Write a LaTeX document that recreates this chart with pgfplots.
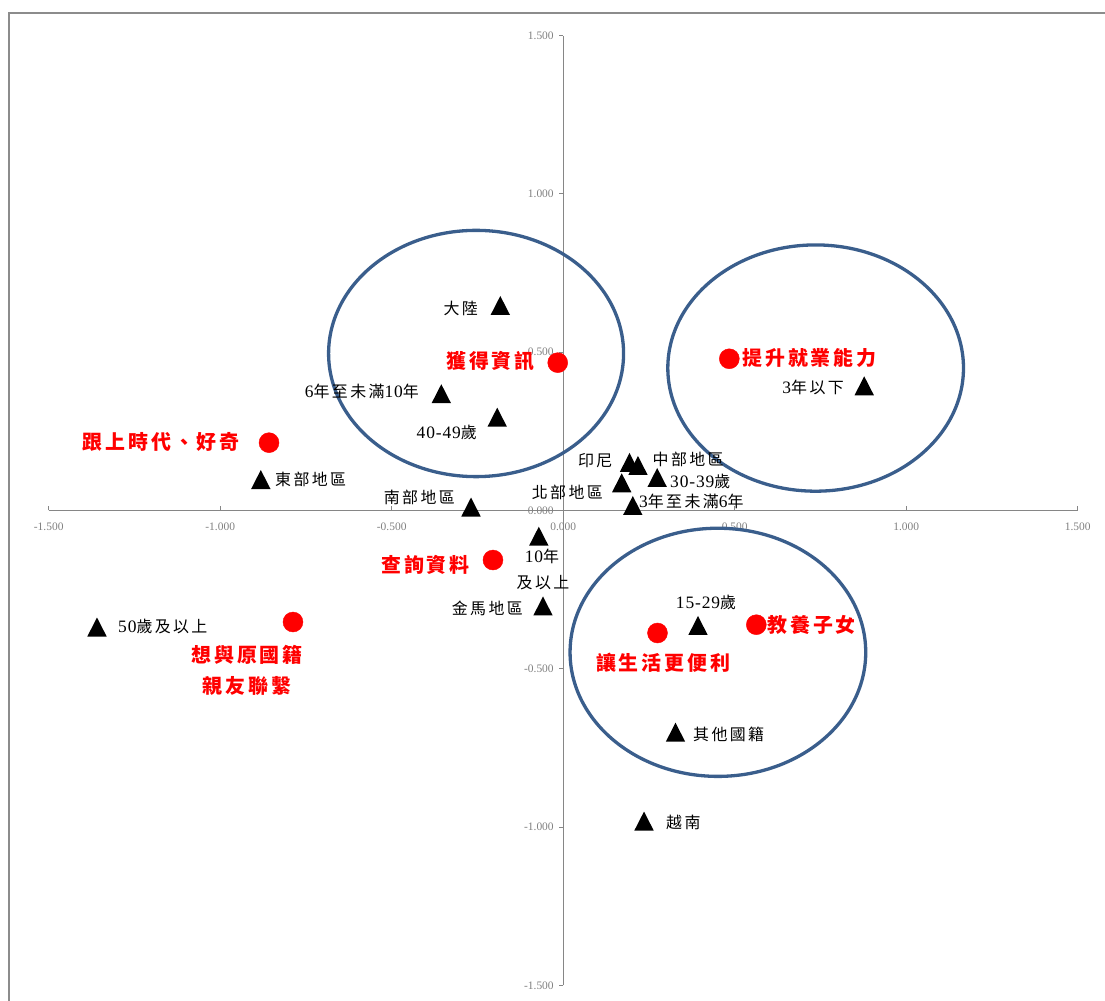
\documentclass[border=0pt]{standalone}
\usepackage{pgfplots}
\pgfplotsset{compat=1.18}
\usepackage{pgfplotstable}
\usepackage{fontspec}
\setmainfont{Liberation Serif}
\newfontfamily\cjkfont[LetterSpace=15]{Noto Sans CJK TC}
\newfontfamily\latfont[LetterSpace=5]{Liberation Serif}
\newcommand\C[1]{{\cjkfont\fontsize{16}{19}\selectfont #1}}
\newcommand\D[1]{{\latfont\fontsize{17.5}{19}\selectfont #1}}
\newcommand\R[1]{{\cjkfont\bfseries\fontsize{20}{24}\selectfont #1}}
\definecolor{axgray}{RGB}{134,134,134}
\definecolor{lblgray}{RGB}{128,128,128}
\definecolor{framegray}{RGB}{140,140,140}
\definecolor{ellcol}{RGB}{58,94,140}
\pgfdeclareplotmark{tri}{%
  \pgfpathmoveto{\pgfqpoint{0bp}{9.5bp}}%
  \pgfpathlineto{\pgfqpoint{-9.7bp}{-9.5bp}}%
  \pgfpathlineto{\pgfqpoint{9.7bp}{-9.5bp}}%
  \pgfpathclose\pgfusepathqfill}

% attributes (triangles)
\pgfplotstableread{
x y
-0.1834 0.6477
-0.3554 0.3690
-0.1924 0.2948
-0.8816 0.0979
-0.2688 0.0110
-0.0711 -0.0812
-0.0589 -0.3017
-1.3592 -0.3681
0.1933 0.1517
0.2180 0.1422
0.2740 0.1043
0.1706 0.0875
0.2029 0.0158
0.8776 0.3940
0.3930 -0.3633
0.3274 -0.7005
0.2356 -0.9811
}\tritable

% motives (circles)
\pgfplotstableread{
x y
-0.0160 0.4670
0.4843 0.4793
-0.8577 0.2142
-0.2047 -0.1564
-0.7878 -0.3523
0.2749 -0.3870
0.5630 -0.3608
}\dottable

\begin{document}
\begin{tikzpicture}
\begin{axis}[
  scale only axis, width=1029bp, height=949.6bp,
  xmin=-1.5, xmax=1.5, ymin=-1.5, ymax=1.5,
  axis lines=middle,
  axis line style={-, draw=axgray, line width=1.3bp},
  xtick={-1.5,-1,-0.5,0,0.5,1,1.5},
  xticklabels={-1.500,-1.000,-0.500,0.000,0.500,1.000,1.500},
  ytick={-1.5,-1,-0.5,0,0.5,1,1.5},
  yticklabels={-1.500,-1.000,-0.500,0.000,0.500,1.000,1.500},
  hide obscured x ticks=false, hide obscured y ticks=false,
  major tick length=4bp, xtick align=inside, ytick align=outside,
  tick style={draw=axgray, line width=1bp},
  tick label style={font=\fontsize{11.5}{13}\selectfont, text=lblgray},
  xticklabel style={yshift=-9bp},
  yticklabel style={xshift=-2bp},
  clip=false,
]
\addplot[only marks, mark=tri, color=black] table {\tritable};
\addplot[only marks, mark=*, mark size=10bp, color=red, mark options={draw=none, fill=red}] table {\dottable};
\draw[ellcol, line width=3.3bp] (axis cs:-0.254,0.496) ellipse [x radius=0.430, y radius=0.389];
\draw[ellcol, line width=3.3bp] (axis cs:0.736,0.450) ellipse [x radius=0.431, y radius=0.389];
\draw[ellcol, line width=3.3bp] (axis cs:0.451,-0.448) ellipse [x radius=0.431, y radius=0.392];
\coordinate (TL) at (rel axis cs:0,1);
\end{axis}
\pgfresetboundingbox
\begin{scope}[shift={(TL)}]
\begin{scope}[x=1bp, y=-1bp, shift={(-48.7,-35.7)}]
\path[use as bounding box] (0,0) rectangle (1105,1001);
\draw[draw=framegray, line width=2bp] (9.5,1001) -- (9.5,13.5) -- (1105,13.5);
\begin{scope}[every node/.style={inner sep=0pt, text=black}]
\node[anchor=east] at (478,308) {\C{大陸}};
\node[anchor=east] at (419,391) {\D{6}\C{年至未滿}\D{10}\C{年}};
\node[anchor=east] at (477,432) {\D{40-49}\C{歲}};
\node[anchor=west] at (275,479) {\C{東部地區}};
\node[anchor=east] at (455,497) {\C{南部地區}};
\node[anchor=center] at (542,556) {\D{10}\C{年}};
\node[anchor=center] at (543,583) {\C{及以上}};
\node[anchor=east] at (523,608) {\C{金馬地區}};
\node[anchor=west] at (118,627) {\D{50}\C{歲及以上}};
\node[anchor=east] at (612.5,461) {\C{印尼}};
\node[anchor=west] at (652.5,459) {\C{中部地區}};
\node[anchor=west] at (670,481) {\D{30-39}\C{歲}};
\node[anchor=east] at (603,492) {\C{北部地區}};
\node[anchor=west] at (639,501) {\D{3}\C{年至未滿}\D{6}\C{年}};
\node[anchor=east] at (844,387) {\D{3}\C{年以下}};
\node[anchor=center] at (706,602) {\D{15-29}\C{歲}};
\node[anchor=west] at (693,734) {\C{其他國籍}};
\node[anchor=west] at (666,822) {\C{越南}};
\end{scope}
\begin{scope}[every node/.style={inner sep=0pt, text=red}]
\node[anchor=east] at (535,361) {\R{獲得資訊}};
\node[anchor=west] at (742,358) {\R{提升就業能力}};
\node[anchor=east] at (240,442) {\R{跟上時代、好奇}};
\node[anchor=east] at (470,565) {\R{查詢資料}};
\node[anchor=center] at (247,655) {\R{想與原國籍}};
\node[anchor=center] at (247,686) {\R{親友聯繫}};
\node[anchor=center] at (663.3,663) {\R{讓生活更便利}};
\node[anchor=west] at (767,625) {\R{教養子女}};
\end{scope}
\end{scope}
\end{scope}
\end{tikzpicture}
\end{document}
